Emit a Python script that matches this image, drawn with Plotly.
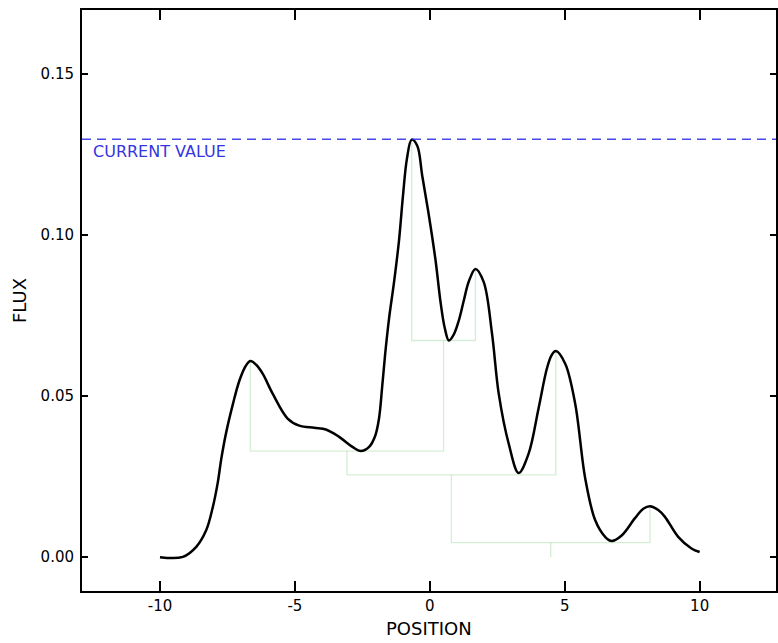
import plotly.graph_objects as go

# ---- data ----
position = [-10.0, -9.15, -8.655, -8.285, -8.04, -7.857, -7.73, -7.546, -7.30, -7.055,
            -6.807, -6.648, -6.427, -6.194, -5.824, -5.270, -4.837, -4.283, -3.851, -3.36,
            -2.868, -2.557, -2.25, -2.029, -1.881, -1.770, -1.659, -1.511, -1.327, -1.142,
            -0.994, -0.847, -0.673, -0.466, -0.281, -0.033, 0.214, 0.399, 0.558, 0.706,
            0.891, 1.075, 1.260, 1.445, 1.693, 1.999, 2.306, 2.554, 2.923,
            3.293, 3.662, 4.032, 4.339, 4.512, 4.671, 5.018, 5.388, 5.758, 6.127,
            6.497, 6.741, 7.110, 7.605, 7.912, 8.16, 8.466, 8.714, 9.205, 9.697, 10.0]
flux = [0.0, 0.0001, 0.0032, 0.0084, 0.0156, 0.0232, 0.0304, 0.0387, 0.0474, 0.0548,
        0.0595, 0.0608, 0.0596, 0.0569, 0.0507, 0.0430, 0.0408, 0.0401, 0.0396, 0.0373,
        0.0342, 0.0329, 0.0342, 0.0375, 0.0431, 0.0524, 0.0626, 0.0740, 0.0852, 0.0982,
        0.1121, 0.1236, 0.1295, 0.1276, 0.1183, 0.1059, 0.0920, 0.0790, 0.0709, 0.0672,
        0.0691, 0.0734, 0.0796, 0.0855, 0.0894, 0.0853, 0.0693, 0.0507, 0.0352,
        0.0261, 0.0321, 0.0462, 0.0585, 0.0626, 0.0639, 0.0600, 0.0476, 0.0245, 0.0115,
        0.0063, 0.0050, 0.0067, 0.0121, 0.0150, 0.0158, 0.0146, 0.0125, 0.0063, 0.0027, 0.0016]

# merge tree: leaves are peaks (nodes 0-4), merges create nodes 5, 6, 7, 8
peak_x = [-6.65, -0.67, 1.69, 4.67, 8.16]
peak_y = [0.0608, 0.1295, 0.0894, 0.0639, 0.0158]
merge_left = [1, 0, 6, 7]
merge_right = [2, 5, 3, 4]
merge_height = [0.0672, 0.0329, 0.0255, 0.0045]
root_floor = 0.0

current_value = 0.1296
current_label = "CURRENT VALUE"

x_ticks = [-10, -5, 0, 5, 10]
x_tick_text = ["-10", "-5", "0", "5", "10"]
y_ticks = [0.0, 0.05, 0.10, 0.15]
y_tick_text = ["0.00", "0.05", "0.10", "0.15"]

# ---- build dendrogram segments ----
node_x = list(peak_x)
node_y = list(peak_y)
dx, dy = [], []
for l, r, h in zip(merge_left, merge_right, merge_height):
    dx += [node_x[l], node_x[l], node_x[r], node_x[r], None]
    dy += [node_y[l], h, h, node_y[r], None]
    node_x.append((node_x[l] + node_x[r]) / 2)
    node_y.append(h)
dx += [node_x[-1], node_x[-1], None]
dy += [node_y[-1], root_floor, None]

FONT = "DejaVu Sans"

fig = go.Figure()
fig.add_trace(go.Scatter(x=dx, y=dy, mode="lines",
                         line=dict(color="rgba(150,210,150,0.4)", width=1.3),
                         hoverinfo="skip", showlegend=False))
fig.add_trace(go.Scatter(x=position, y=flux, mode="lines",
                         line=dict(color="black", width=2.5, shape="spline", smoothing=1.0),
                         showlegend=False))

fig.add_shape(type="line", xref="paper", yref="y", x0=0, x1=1,
              y0=current_value, y1=current_value,
              line=dict(color="rgba(40,40,235,0.85)", width=1.4, dash="9px,6px"))
fig.add_annotation(x=-12.55, y=current_value, xref="x", yref="y", text=current_label,
                   showarrow=False, xanchor="left", yanchor="top", yshift=-1,
                   font=dict(family=FONT, size=16, color="#3535e0"))

fig.add_annotation(x=0.5, y=0, xref="paper", yref="paper", text="POSITION",
                   showarrow=False, xanchor="center", yanchor="top", yshift=-25,
                   font=dict(family=FONT, size=18, color="black"))
fig.add_annotation(x=0, y=0.5, xref="paper", yref="paper", text="FLUX",
                   showarrow=False, xanchor="right", yanchor="middle", xshift=-50,
                   textangle=-90, font=dict(family=FONT, size=18, color="black"))

axis_common = dict(showgrid=False, zeroline=False, showline=True, linecolor="black",
                   linewidth=2, mirror="ticks", ticks="inside", tickwidth=2,
                   tickcolor="black", tickfont=dict(family=FONT, size=15, color="black"))

fig.update_xaxes(range=[-12.89, 12.83], tickvals=x_ticks, ticktext=x_tick_text,
                 ticklen=10, ticklabelstandoff=0, **axis_common)
fig.update_yaxes(range=[-0.0105, 0.1697], tickvals=y_ticks, ticktext=y_tick_text,
                 ticklen=6, ticklabelstandoff=3, **axis_common)

fig.update_layout(width=778, height=643, margin=dict(l=82, r=0, t=10, b=52),
                  plot_bgcolor="white", paper_bgcolor="white",
                  font=dict(family=FONT, color="black"))

fig.write_html("out.html", config={"displayModeBar": False},
               post_script="document.body.style.margin='0';")
